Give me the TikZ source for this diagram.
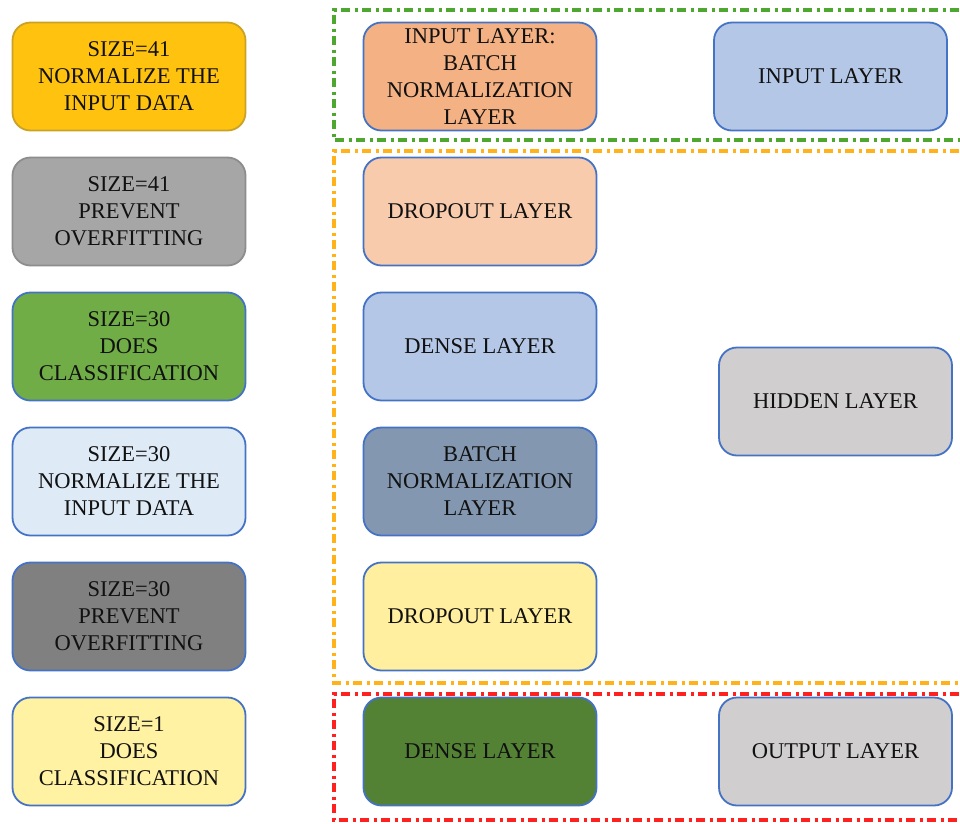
\documentclass[tikz,border=0pt]{standalone}
\usepackage{fontspec}
\setmainfont{Liberation Serif}
\definecolor{bord}{HTML}{4472C4}
\definecolor{cA}{HTML}{FFC20E}
\definecolor{cAb}{HTML}{C9A227}
\definecolor{cB}{HTML}{A6A6A6}
\definecolor{cC}{HTML}{70AD47}
\definecolor{cD}{HTML}{DEEBF7}
\definecolor{cE}{HTML}{808080}
\definecolor{cF}{HTML}{FFF2A3}
\definecolor{mA}{HTML}{F4B183}
\definecolor{mB}{HTML}{F8CBAD}
\definecolor{mC}{HTML}{B4C7E7}
\definecolor{mD}{HTML}{8497B0}
\definecolor{mE}{HTML}{FFEF9E}
\definecolor{mF}{HTML}{548235}
\definecolor{rG}{HTML}{D0CECE}
\definecolor{gframe}{HTML}{4EA72E}
\definecolor{oframe}{HTML}{FFB21A}
\definecolor{rframe}{HTML}{FF2020}
\definecolor{txt}{HTML}{111111}
\tikzset{
  boxnode/.style={draw=bord, line width=1.8pt, rounded corners=18pt,
    minimum width=233pt, minimum height=108pt, align=center, inner sep=2pt,
    text=txt, font=\fontsize{22.5pt}{27pt}\selectfont},
  frame/.style={line width=3.2pt, dash pattern=on 9pt off 4.5pt on 3pt off 4.5pt}
}
\begin{document}
\begin{tikzpicture}[x=1pt,y=-1pt]
\useasboundingbox (0,0) rectangle (960,823);
\clip (0,0) rectangle (960,823);
\fill[white] (0,0) rectangle (960,823);
% group frames
\draw[frame, draw=gframe] (980,10) -- (334,10) -- (334,140) -- (980,140);
\draw[frame, draw=oframe] (980,151) -- (334,151) -- (334,683) -- (980,683);
\draw[frame, draw=rframe] (980,694) -- (334,694) -- (334,820) -- (980,820);
% left column
\node[boxnode, fill=cA, draw=cAb] (l1) at (129,76.5) {SIZE=41\\NORMALIZE THE\\INPUT DATA};
\node[boxnode, fill=cB, draw=cB!85!black] (l2) at (129,211.5) {SIZE=41\\PREVENT\\OVERFITTING};
\node[boxnode, fill=cC] (l3) at (129,346.5) {SIZE=30\\DOES\\CLASSIFICATION};
\node[boxnode, fill=cD] (l4) at (129,481.5) {SIZE=30\\NORMALIZE THE\\INPUT DATA};
\node[boxnode, fill=cE] (l5) at (129,616.5) {SIZE=30\\PREVENT\\OVERFITTING};
\node[boxnode, fill=cF] (l6) at (129,751.5) {SIZE=1\\DOES\\CLASSIFICATION};
% middle column
\node[boxnode, fill=mA] (m1) at (480,76.5) {INPUT LAYER:\\BATCH\\NORMALIZATION\\LAYER};
\node[boxnode, fill=mB] (m2) at (480,211.5) {DROPOUT LAYER};
\node[boxnode, fill=mC] (m3) at (480,346.5) {DENSE LAYER};
\node[boxnode, fill=mD] (m4) at (480,481.5) {BATCH\\NORMALIZATION\\LAYER};
\node[boxnode, fill=mE] (m5) at (480,616.5) {DROPOUT LAYER};
\node[boxnode, fill=mF] (m6) at (480,751.5) {DENSE LAYER};
% right column
\node[boxnode, fill=mC] (r1) at (830.5,76.5) {INPUT LAYER};
\node[boxnode, fill=rG] (r2) at (835.5,401.5) {HIDDEN LAYER};
\node[boxnode, fill=rG] (r3) at (835.5,751.5) {OUTPUT LAYER};
\end{tikzpicture}
\end{document}
